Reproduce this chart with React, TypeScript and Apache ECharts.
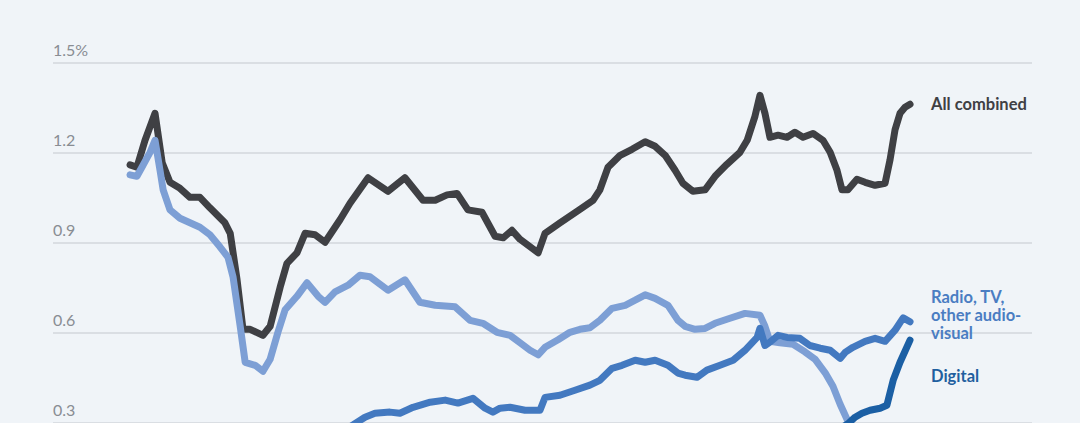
import React, { useEffect, useRef } from "react";
import * as echarts from "echarts";

// Decimal-year positions and values (% of GDP)
const allYears = [1995.0, 1995.22, 1995.48, 1995.8, 1996.03, 1996.28, 1996.6, 1996.92, 1997.24, 1997.56, 1998.04, 1998.21, 1998.43, 1998.62, 1998.85, 1999.26, 1999.49, 1999.81, 2000.03, 2000.35, 2000.61, 2000.93, 2001.25, 2001.73, 2002.05, 2002.63, 2003.27, 2003.81, 2004.39, 2004.78, 2005.16, 2005.48, 2005.83, 2006.28, 2006.7, 2006.96, 2007.24, 2007.5, 2008.08, 2008.3, 2008.78, 2009.42, 2009.84, 2010.06, 2010.32, 2010.71, 2011.09, 2011.51, 2011.83, 2012.15, 2012.47, 2012.72, 2013.04, 2013.43, 2013.75, 2014.13, 2014.55, 2014.78, 2015.03, 2015.19, 2015.35, 2015.51, 2015.77, 2016.06, 2016.31, 2016.57, 2016.89, 2017.21, 2017.44, 2017.66, 2017.82, 2018.01, 2018.3, 2018.56, 2018.88, 2019.2, 2019.36, 2019.52, 2019.68, 2019.84, 2020.0];
const allValues = [1.158, 1.15, 1.24, 1.33, 1.165, 1.1, 1.08, 1.05, 1.05, 1.015, 0.965, 0.93, 0.775, 0.61, 0.61, 0.59, 0.62, 0.75, 0.83, 0.865, 0.93, 0.925, 0.9, 0.975, 1.03, 1.115, 1.07, 1.115, 1.04, 1.04, 1.058, 1.063, 1.008, 1.0, 0.92, 0.915, 0.94, 0.91, 0.865, 0.93, 0.965, 1.01, 1.04, 1.075, 1.15, 1.19, 1.21, 1.235, 1.22, 1.19, 1.14, 1.097, 1.07, 1.075, 1.12, 1.16, 1.2, 1.24, 1.32, 1.39, 1.33, 1.25, 1.257, 1.25, 1.267, 1.25, 1.263, 1.24, 1.2, 1.14, 1.075, 1.075, 1.11, 1.1, 1.09, 1.097, 1.175, 1.275, 1.33, 1.35, 1.36];

const otherYears = [1995.0, 1995.22, 1995.38, 1995.64, 1995.8, 1995.96, 1996.06, 1996.28, 1996.6, 1997.24, 1997.56, 1997.88, 1998.14, 1998.3, 1998.53, 1998.69, 1999.01, 1999.26, 1999.49, 1999.74, 1999.97, 2000.35, 2000.67, 2001.03, 2001.25, 2001.57, 2001.99, 2002.37, 2002.69, 2003.27, 2003.81, 2004.29, 2004.78, 2005.42, 2005.9, 2006.31, 2006.76, 2007.18, 2007.5, 2007.82, 2008.08, 2008.3, 2008.72, 2009.1, 2009.42, 2009.74, 2010.06, 2010.45, 2010.87, 2011.19, 2011.51, 2011.83, 2012.24, 2012.56, 2012.79, 2013.11, 2013.43, 2013.75, 2014.23, 2014.71, 2015.19, 2015.35, 2015.51, 2015.83, 2016.25, 2016.63, 2016.96, 2017.28, 2017.53, 2017.76, 2017.98, 2018.24, 2018.72, 2019.36, 2020.0];
const otherValues = [1.125, 1.12, 1.15, 1.2, 1.24, 1.14, 1.075, 1.008, 0.98, 0.95, 0.925, 0.885, 0.85, 0.785, 0.62, 0.5, 0.49, 0.47, 0.51, 0.6, 0.675, 0.72, 0.765, 0.72, 0.7, 0.735, 0.757, 0.79, 0.785, 0.74, 0.775, 0.7, 0.69, 0.685, 0.64, 0.63, 0.6, 0.59, 0.565, 0.54, 0.525, 0.55, 0.575, 0.6, 0.61, 0.615, 0.64, 0.68, 0.69, 0.707, 0.725, 0.713, 0.69, 0.64, 0.62, 0.61, 0.613, 0.63, 0.647, 0.663, 0.657, 0.62, 0.57, 0.565, 0.56, 0.535, 0.51, 0.465, 0.42, 0.36, 0.31, 0.27, 0.24, 0.22, 0.21];

const radioYears = [2001.73, 2002.05, 2002.28, 2002.53, 2002.85, 2003.33, 2003.65, 2004.07, 2004.62, 2005.1, 2005.51, 2005.99, 2006.38, 2006.63, 2006.86, 2007.18, 2007.66, 2008.14, 2008.3, 2008.78, 2009.26, 2009.74, 2010.06, 2010.45, 2010.77, 2011.19, 2011.51, 2011.83, 2012.24, 2012.56, 2012.79, 2013.17, 2013.49, 2013.91, 2014.33, 2014.71, 2015.1, 2015.19, 2015.35, 2015.51, 2015.77, 2016.06, 2016.47, 2016.79, 2017.12, 2017.44, 2017.76, 2017.92, 2018.17, 2018.56, 2018.88, 2019.2, 2019.52, 2019.78, 2020.0];
const radioValues = [0.27, 0.285, 0.3, 0.317, 0.33, 0.334, 0.33, 0.35, 0.367, 0.374, 0.364, 0.38, 0.347, 0.334, 0.347, 0.35, 0.34, 0.34, 0.383, 0.39, 0.407, 0.424, 0.44, 0.48, 0.49, 0.507, 0.5, 0.507, 0.49, 0.464, 0.457, 0.45, 0.474, 0.49, 0.507, 0.54, 0.583, 0.613, 0.556, 0.567, 0.59, 0.583, 0.58, 0.556, 0.547, 0.54, 0.513, 0.533, 0.55, 0.57, 0.58, 0.57, 0.607, 0.648, 0.635];

const digitalYears = [2017.0, 2017.6, 2018.01, 2018.24, 2018.46, 2018.72, 2019.04, 2019.26, 2019.46, 2019.68, 2020.0];
const digitalValues = [0.22, 0.27, 0.295, 0.317, 0.33, 0.34, 0.347, 0.357, 0.44, 0.5, 0.574];

const yTicks = [0, 0.3, 0.6, 0.9, 1.2, 1.5];

const pairs = (xs: number[], ys: number[]) => xs.map((x, i) => [x, ys[i]]);

export default function App() {
  const ref = useRef<HTMLDivElement>(null);
  useEffect(() => {
    if (!ref.current) return;
    const chart = echarts.init(ref.current, null, { renderer: "svg" });
    const labelFont = "Lato, 'Noto Sans', sans-serif";
    const line = (name: string, data: number[][], color: string, label: any) => ({
      name,
      type: "line",
      data,
      showSymbol: false,
      symbol: "none",
      silent: true,
      lineStyle: { color, width: 7, cap: "round", join: "round" },
      endLabel: label,
      z: 2,
    });
    chart.setOption({
      animation: false,
      backgroundColor: "#f0f4f8",
      grid: { left: 53, right: 48, top: 62.3, bottom: 47.7, containLabel: false },
      xAxis: {
        type: "value",
        min: 1992.53,
        max: 2023.91,
        show: false,
        splitLine: { show: false },
      },
      yAxis: {
        type: "value",
        min: yTicks[0],
        max: yTicks[yTicks.length - 1],
        interval: 0.3,
        axisLine: { show: false },
        axisTick: { show: false },
        splitLine: { show: true, lineStyle: { color: "#d3d7dc", width: 1.5 } },
        axisLabel: {
          inside: true,
          margin: 0,
          align: "left",
          verticalAlign: "bottom",
          padding: [0, 0, 5, 0],
          color: "#898d93",
          fontSize: 16,
          fontFamily: labelFont,
          formatter: (v: number) => (v === 0 ? "" : v === 1.5 ? "1.5%" : v.toFixed(1)),
        },
      },
      series: [
        line("All combined", pairs(allYears, allValues), "#3f4044", {
          show: true,
          formatter: "All combined",
          distance: 21,
          color: "#3f4044",
          fontFamily: labelFont,
          fontWeight: "bold",
          fontSize: 16.5,
        }),
        line("Other", pairs(otherYears, otherValues), "#7d9fd5", { show: false }),
        line("Radio, TV, other audio-visual", pairs(radioYears, radioValues), "#4379c0", {
          show: true,
          formatter: "Radio, TV,\nother audio-\nvisual",
          distance: 21,
          offset: [0, -7],
          color: "#4a7dc2",
          lineHeight: 18,
          fontFamily: labelFont,
          fontWeight: "bold",
          fontSize: 16.5,
        }),
        line("Digital", pairs(digitalYears, digitalValues), "#1b5fa4", {
          show: true,
          formatter: "Digital",
          distance: 21,
          offset: [0, 36],
          color: "#1f5f9f",
          fontFamily: labelFont,
          fontWeight: "bold",
          fontSize: 16.5,
        }),
      ],
    });
    return () => chart.dispose();
  }, []);
  return (
    <div style={{ position: "absolute", left: 0, top: 0, width: 1080, height: 423, overflow: "hidden", background: "#f0f4f8" }}>
      <div ref={ref} style={{ position: "absolute", left: 0, top: 0, width: 1080, height: 560 }} />
    </div>
  );
}
